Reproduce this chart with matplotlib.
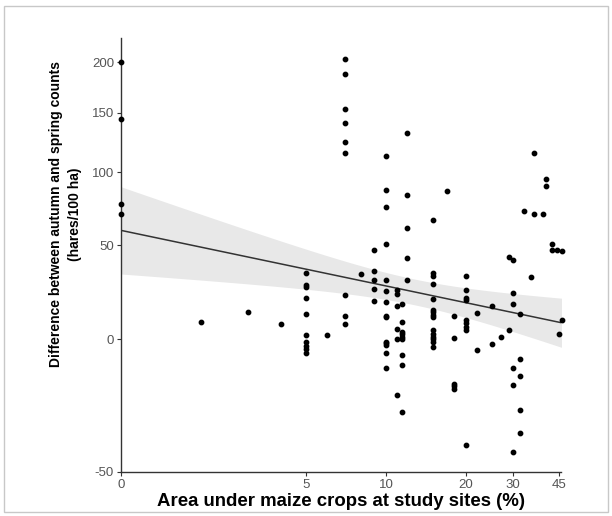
import numpy as np
import matplotlib
matplotlib.use('Agg')
import matplotlib.pyplot as plt
from matplotlib.patches import Rectangle

plt.rcParams['font.family'] = ['Liberation Sans', 'DejaVu Sans']

# area under maize (%) at each site, grouped by value
maize = ([0] * 4 + [2, 3, 4] + [5] * 10 + [6] + [7] * 9 + [8] + [9] * 5
         + [10] * 14 + [11] * 6 + [11.5] * 9 + [12] * 5 + [15] * 15 + [17]
         + [18] * 5 + [20] * 9 + [22] * 2 + [25] * 2 + [27] + [29] * 2
         + [30] * 6 + [32] * 5 + [33] + [35] + [36] * 2 + [39] + [40] * 2
         + [42] * 2 + [44] + [45] + [46] * 2)

# autumn minus spring counts (hares/100 ha), same order as maize
diff = ([200, 144, 77, 70] + [8, 13, 7]
        + [34, 27, 26, 20, 12, 2, -1, -3, -4.5, -6] + [2]
        + [204, 188, 153, 141, 124, 115, 22, 11, 7] + [33]
        + [47, 35, 30, 25, 18.5]
        + [113, 87, 75, 51, 30, 24, 18, 11, 10.5, -1, -1.6, -2.7, -6, -12.4]
        + [24.7, 22.2, 16, 4.7, 0, -23.4]
        + [17, 8, 3.5, 2.7, 1.3, 0.3, -7, -11.4, -30]
        + [132, 83, 61, 42.6, 29.7]
        + [66, 34, 32, 27.5, 19.5, 14, 13, 11.5, 10.4, 4.2, 2.7, 1.3, 0.3, -1.3, -3.5]
        + [86] + [11, 0.6, -19, -20, -21]
        + [32, 24.3, 20, 19.4, 9.4, 7.7, 5.8, 4.6, -41.5]
        + [12.6, -4.6] + [16, -2] + [1] + [43, 4.6]
        + [41.5, 23, 17.4, -12.7, -19.4, -43.7]
        + [12, -8.7, -16, -29, -37.5] + [72] + [31.6] + [115, 70] + [70.4]
        + [95, 90] + [50.7, 47.4] + [47] + [2.4] + [46.6, 9])

x_ticks = [0, 5, 10, 20, 30, 45]
y_ticks = [-50, 0, 50, 100, 150, 200]

x = np.array(maize, float)
y = np.array(diff, float)


def fwd_x(v):
    return np.log(np.maximum(np.asarray(v, float), 1))


def inv_x(v):
    return np.exp(v)


def fwd_y(v):
    return np.log(np.asarray(v, float) + 150)


def inv_y(v):
    return np.exp(v) - 150


# linear fit on the transformed scales, with 95% band
X = fwd_x(x)
Y = fwd_y(y)
n = len(X)
b, a = np.polyfit(X, Y, 1)
res = Y - (a + b * X)
s = np.sqrt(np.sum(res ** 2) / (n - 2))
sxx = np.sum((X - X.mean()) ** 2)
gx = np.linspace(0, fwd_x(46), 200)
gy = a + b * gx
se = s * np.sqrt(1.0 / n + (gx - X.mean()) ** 2 / sxx)
t = 1.98

fig = plt.figure(figsize=(6.12, 5.16), dpi=100)
fig.add_artist(Rectangle((4 / 612, 4 / 516), 604 / 612, 506 / 516,
                         transform=fig.transFigure, fill=False,
                         edgecolor='#c8c8c8', linewidth=1))
ax = fig.add_axes([121 / 612, 44 / 516, 440 / 612, 434 / 516])
ax.set_xscale('function', functions=(fwd_x, inv_x))
ax.set_yscale('function', functions=(fwd_y, inv_y))

ax.fill_between(inv_x(gx), inv_y(gy - t * se), inv_y(gy + t * se),
                color='#e8e8e8', linewidth=0, zorder=1)
ax.plot(inv_x(gx), inv_y(gy), color='#333333', linewidth=1.1, zorder=2)
ax.scatter(x, y, s=10, color='black', zorder=3, clip_on=False)

ax.set_xlim(0, 45.6)
ax.set_ylim(-50, 227)
ax.set_xticks(x_ticks)
ax.set_xticklabels([str(v) for v in x_ticks])
ax.set_yticks(y_ticks)
ax.set_yticklabels([str(v) for v in y_ticks])
ax.minorticks_off()

for side in ['top', 'right']:
    ax.spines[side].set_visible(False)
for side in ['left', 'bottom']:
    ax.spines[side].set_color('#333333')
    ax.spines[side].set_linewidth(1)
ax.tick_params(colors='#333333', labelcolor='#555555', labelsize=9.5,
               length=3, width=0.8, pad=2)

fig.text(341 / 612, 1 - 502 / 516, 'Area under maize crops at study sites (%)',
         ha='center', va='center', fontsize=13.4, fontweight='bold')
fig.text(65.5 / 612, 1 - 214 / 516,
         'Difference between autumn and spring counts\n(hares/100 ha)',
         ha='center', va='center', rotation=90, fontsize=10,
         fontweight='bold', linespacing=1.45, multialignment='center')

fig.savefig('out.png', dpi=100)
